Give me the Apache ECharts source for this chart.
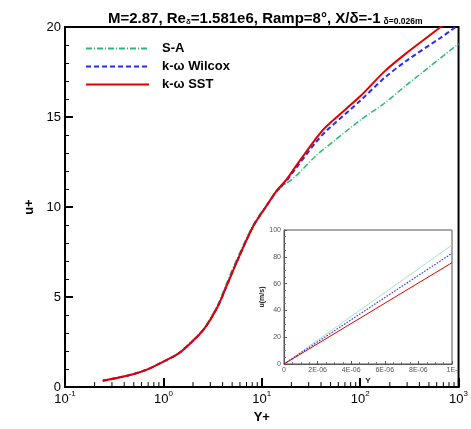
<!DOCTYPE html>
<html><head><meta charset="utf-8">
<script src="https://cdn.jsdelivr.net/npm/echarts@6/dist/echarts.min.js"></script>
<style>html,body{margin:0;padding:0;background:#fff;overflow:hidden}#c{width:471px;height:429px}</style>
</head><body><div id="c"></div>
<script>
// Main plot: Y+ vs u+
const saY = [0.242,0.48,0.7,1.0,1.41,1.92,2.61,3.55,4.3,5.62,8.26,11.2,14.1,21.5,35.5,44.7,100,178,300,1000];
const saU = [0.35,0.7,1.0,1.42,1.87,2.52,3.3,4.55,5.65,7.15,9.05,10.12,10.88,11.65,12.85,13.3,14.82,15.78,16.8,19.07];
const wilY = [0.242,0.48,0.7,1.0,1.41,1.92,2.61,3.55,4.3,5.62,8.26,11.2,14.1,17.8,21.5,35.5,44.7,100,178,300,656,851,1000];
const wilU = [0.35,0.7,1.0,1.42,1.85,2.48,3.25,4.45,5.5,7.0,8.97,10.07,10.87,11.45,12.05,13.6,14.2,15.9,17.19,18.15,19.4,19.84,20.1];
const sstY = [0.242,0.48,0.7,1.0,1.41,1.92,2.61,3.55,4.3,5.62,8.26,11.2,14.1,17.8,21.5,35.5,44.7,100,178,300,656,750];
const sstU = [0.35,0.7,1.0,1.42,1.85,2.48,3.25,4.45,5.5,7.0,8.97,10.07,10.89,11.52,12.16,13.8,14.45,16.15,17.55,18.58,20.0,20.3];
const xMinorTicks = [0.2,0.3,0.4,0.5,0.6,0.7,0.8,0.9,2,3,4,5,6,7,8,9,20,30,40,50,60,70,80,90,200,300,400,500,600,700,800,900];
// Inset: Y (m) vs u (m/s)
const insetY = [0, 1e-5];
const insetSA = [0, 88.8];
const insetWil = [0, 82.6];
const insetSST = [0, 75.6];
const seriesNames = ['S-A','k-ω Wilcox','k-ω SST'];

const FF = "'Liberation Sans', Arial, sans-serif";
const zip = (a,b) => a.map((v,i)=>[v,b[i]]);
const chart = echarts.init(document.getElementById('c'));
chart.setOption({
  animation:false,
  textStyle:{fontFamily:FF},
  title:{
    text:'{m|M=2.87, Re}{s|δ}{m|=1.581e6, Ramp=8°, X/δ=-1}{s2|δ=0.026m}',
    left:103, top:2,
    textStyle:{rich:{
      m:{fontFamily:FF,fontSize:15,fontWeight:'bold',color:'#000',verticalAlign:'bottom',lineHeight:19},
      s:{fontFamily:FF,fontSize:8,color:'#000',verticalAlign:'bottom',lineHeight:14},
      s2:{fontFamily:FF,fontSize:8.5,fontWeight:'bold',color:'#000',verticalAlign:'bottom',lineHeight:11,padding:[0,0,0,3]}
    }}
  },
  legend:{
    data:seriesNames, orient:'vertical', left:80, top:37,
    itemWidth:63, itemHeight:12, itemGap:5,
    itemStyle:{opacity:0},
    textStyle:{fontFamily:FF,fontSize:13,fontWeight:'bold',color:'#000',padding:[0,0,0,8],lineHeight:13}
  },
  grid:[
    {left:65, top:27, width:400, height:365, show:true, borderColor:'#000', borderWidth:2, backgroundColor:'transparent'},
    {left:284, top:230, width:168, height:134, show:true, borderColor:'#555', borderWidth:1, backgroundColor:'#fff', z:5}
  ],
  xAxis:[
    {type:'log', gridIndex:0, logBase:10, min:0.1, max:1000,
     axisLine:{show:true,lineStyle:{color:'#000',width:2}},
     axisTick:{show:true,inside:true,length:9,lineStyle:{color:'#000',width:2}},
     splitLine:{show:false},
     axisLabel:{margin:3, formatter:function(v){return '{b|10}{s|'+Math.round(Math.log10(v))+'}';},
       rich:{b:{fontFamily:FF,fontSize:13,color:'#000',verticalAlign:'bottom',lineHeight:16},
             s:{fontFamily:FF,fontSize:8,color:'#000',verticalAlign:'top',lineHeight:16}}},
     name:'Y+', nameLocation:'middle', nameGap:22,
     nameTextStyle:{fontFamily:FF,fontSize:13,fontWeight:'bold',color:'#000'}},
    {type:'value', gridIndex:1, min:0, max:1e-5, interval:2e-6,
     axisLine:{show:true,lineStyle:{color:'#555',width:1}},
     axisTick:{show:true,inside:true,length:3,lineStyle:{color:'#555'}},
     minorTick:{show:true,splitNumber:4,length:2,lineStyle:{color:'#777'}},
     splitLine:{show:false},
     axisLabel:{margin:3,fontSize:7,color:'#555',formatter:function(v){
       const n=Math.round(v*1e6); if(n===0) return '0'; if(n===10) return '1E-'; return n+'E-06';}},
     name:'Y', nameLocation:'middle', nameGap:13,
     nameTextStyle:{fontFamily:FF,fontSize:8,fontWeight:'bold',color:'#222'}, z:6}
  ],
  yAxis:[
    {type:'value', gridIndex:0, min:0, max:20, interval:5,
     axisLine:{show:true,lineStyle:{color:'#000',width:2}},
     axisTick:{show:true,inside:true,length:8,lineStyle:{color:'#000',width:2}},
     minorTick:{show:true,splitNumber:5,length:4,lineStyle:{color:'#000',width:1}},
     splitLine:{show:false}, minorSplitLine:{show:false},
     axisLabel:{margin:4,fontSize:13,color:'#000'},
     name:'u+', nameLocation:'middle', nameGap:23, nameRotate:90,
     nameTextStyle:{fontFamily:FF,fontSize:13,fontWeight:'bold',color:'#000'}},
    {type:'value', gridIndex:1, min:0, max:100, interval:20,
     axisLine:{show:true,lineStyle:{color:'#555',width:1}},
     axisTick:{show:true,inside:true,length:3,lineStyle:{color:'#555'}},
     minorTick:{show:true,splitNumber:4,length:2,lineStyle:{color:'#777'}},
     splitLine:{show:false},
     axisLabel:{margin:3,fontSize:7,color:'#555'},
     name:'u(m/s)', nameLocation:'middle', nameGap:15, nameRotate:90,
     nameTextStyle:{fontFamily:FF,fontSize:7,fontWeight:'bold',color:'#222'}, z:6}
  ],
  series:[
    {name:'S-A', type:'line', xAxisIndex:0, yAxisIndex:0, data:zip(saY,saU), showSymbol:false, symbol:'none', smooth:0.3,
     lineStyle:{color:'#2fb777',width:1.5,type:[6,2,1,2]}, itemStyle:{color:'#2fb777'}, z:3},
    {name:'k-ω Wilcox', type:'line', xAxisIndex:0, yAxisIndex:0, data:zip(wilY,wilU), showSymbol:false, symbol:'none', smooth:0.3,
     lineStyle:{color:'#2a2aff',width:2,type:[5,3]}, itemStyle:{color:'#2a2aff'}, z:4},
    {name:'k-ω SST', type:'line', xAxisIndex:0, yAxisIndex:0, data:zip(sstY,sstU), showSymbol:false, symbol:'none', smooth:0.3,
     lineStyle:{color:'#e00000',width:2}, itemStyle:{color:'#e00000'}, z:5},
    {type:'custom', xAxisIndex:0, yAxisIndex:0, data:xMinorTicks.map(v=>[v,0]), silent:true, clip:false, z:6,
     renderItem:function(params, api){
       const p = api.coord([api.value(0), 0]);
       return {type:'line', shape:{x1:p[0],y1:p[1],x2:p[0],y2:p[1]-5}, style:{stroke:'#000',lineWidth:1}};
     }},
    {type:'line', xAxisIndex:1, yAxisIndex:1, data:zip(insetY,insetSA), showSymbol:false, symbol:'none', lineStyle:{color:'#a6e3c6',width:1}, z:7},
    {type:'line', xAxisIndex:1, yAxisIndex:1, data:zip(insetY,insetWil), showSymbol:false, symbol:'none', lineStyle:{color:'#3333ff',width:1.2,type:[1.5,1.5]}, z:7},
    {type:'line', xAxisIndex:1, yAxisIndex:1, data:zip(insetY,insetSST), showSymbol:false, symbol:'none', lineStyle:{color:'#e00000',width:1}, z:7}
  ]
});
</script></body></html>
